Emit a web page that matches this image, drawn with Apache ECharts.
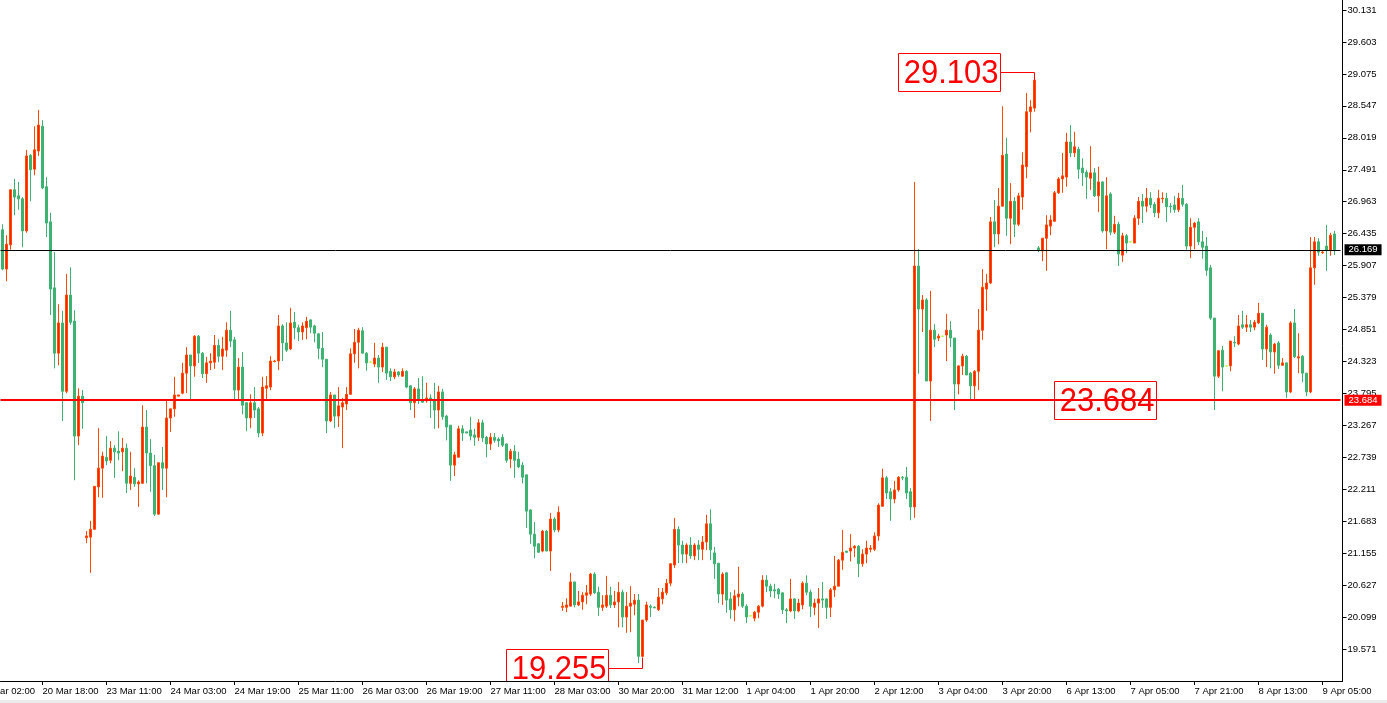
<!DOCTYPE html>
<html>
<head>
<meta charset="utf-8">
<script src="https://cdn.jsdelivr.net/npm/echarts@6/dist/echarts.min.js"></script>
<style>
html,body{margin:0;padding:0;background:#fff;overflow:hidden;}
#c{width:1387px;height:703px;}
</style>
</head>
<body>
<div id="c"></div>
<script>
// ---- data ----
const tickLabels = ['20 Mar 18:00','23 Mar 11:00','24 Mar 03:00','24 Mar 19:00','25 Mar 11:00','26 Mar 03:00','26 Mar 19:00','27 Mar 11:00','28 Mar 03:00','30 Mar 20:00','31 Mar 12:00','1 Apr 04:00','1 Apr 20:00','2 Apr 12:00','3 Apr 04:00','3 Apr 20:00','6 Apr 13:00','7 Apr 05:00','7 Apr 21:00','8 Apr 13:00','9 Apr 05:00'];
const cutLabel = '20 Mar 02:00';

const openP = [
26.50,25.85,26.25,27.16,27.06,27.01,26.48,27.73,27.50,27.80,
28.21,27.21,26.63,25.54,24.46,24.96,23.83,25.42,24.99,23.09,
23.75,21.41,21.42,21.55,22.25,22.56,22.74,22.69,22.89,22.84,
22.83,22.89,22.31,22.41,22.30,22.31,23.24,22.81,22.60,21.80,
22.65,22.56,23.39,23.54,23.75,23.80,24.13,24.43,24.25,24.74,
24.46,24.12,24.30,24.31,24.59,24.41,24.51,24.84,24.68,23.85,
24.23,23.64,23.39,23.64,23.54,23.14,23.88,23.90,24.32,24.33,
24.91,24.63,24.53,24.97,24.88,24.81,24.88,25.01,24.91,24.78,
24.54,24.36,23.34,23.77,23.42,23.57,23.62,23.78,24.45,24.64,
24.83,24.46,24.31,24.28,24.38,24.23,24.56,24.16,24.07,24.15,
24.08,24.16,23.92,23.64,23.87,23.69,23.67,23.72,23.69,23.52,
23.82,23.42,23.27,22.61,22.74,23.21,23.16,23.19,23.11,23.07,
23.31,23.07,22.96,23.07,23.04,23.07,22.96,22.71,22.84,22.71,
22.61,22.45,21.87,21.47,21.31,21.19,21.52,21.19,21.72,21.54,
20.26,20.26,20.28,20.68,20.30,20.35,20.46,20.48,20.81,20.51,
20.26,20.28,20.46,20.30,20.35,20.51,20.10,20.28,20.31,20.38,
19.45,20.05,20.28,20.26,20.22,20.40,20.50,20.66,20.96,21.55,
21.29,21.14,21.29,21.11,21.29,21.22,21.34,21.64,21.16,20.99,
20.48,20.83,20.40,20.22,20.43,20.48,20.28,20.12,20.08,20.18,
20.28,20.71,20.61,20.55,20.56,20.50,20.22,20.20,20.40,20.20,
20.30,20.66,20.51,20.26,20.33,20.40,20.40,20.26,20.55,20.61,
21.04,21.19,21.19,21.24,21.27,20.98,21.14,21.22,21.22,21.44,
21.93,22.40,22.17,22.05,22.20,22.41,22.41,22.17,21.92,25.90,
25.19,25.34,24.00,24.84,24.71,24.74,24.76,24.84,24.71,23.95,
24.25,24.41,24.13,23.92,24.16,24.84,25.52,25.62,26.63,26.43,
26.89,27.75,26.69,26.97,26.59,27.04,27.54,28.45,28.51,26.20,
26.15,26.36,26.56,26.64,27.11,27.34,27.37,27.95,27.77,27.83,
27.52,27.45,27.35,27.44,27.06,27.29,26.48,27.09,26.46,26.59,
26.08,26.40,26.30,26.28,26.69,26.97,26.89,27.02,26.92,26.78,
27.01,27.02,26.89,26.91,26.83,27.02,26.92,26.23,26.54,26.63,
26.30,26.23,25.87,25.04,24.08,24.51,24.25,24.25,24.64,24.61,
24.93,24.89,24.93,24.89,24.96,25.12,24.53,24.76,24.48,24.63,
24.26,24.30,23.82,24.96,24.38,24.41,24.13,23.82,25.87,26.30,
26.12,26.23,26.16,26.43];

const highP = [
26.59,26.41,27.17,27.34,27.29,27.04,27.82,27.75,28.21,28.48,
28.31,27.37,26.78,26.13,25.27,25.16,25.77,25.88,25.17,23.88,
23.85,21.52,21.69,22.26,23.22,22.83,23.09,23.01,22.94,23.17,
23.06,22.97,22.83,22.56,22.36,23.60,23.52,23.04,22.78,22.65,
22.91,23.69,23.54,24.07,23.77,24.30,24.56,24.43,24.76,24.76,
24.48,24.40,24.46,24.76,24.69,24.73,24.97,25.16,24.73,24.38,
24.48,23.65,23.78,23.90,23.57,24.07,24.08,24.41,24.35,25.09,
24.94,24.97,25.21,25.14,24.93,24.97,25.06,25.02,24.93,24.79,
24.81,24.36,23.82,23.77,23.90,23.72,23.90,24.54,24.86,24.88,
24.89,24.48,24.33,24.63,24.43,24.63,24.56,24.21,24.20,24.16,
24.21,24.18,23.93,23.90,24.05,24.08,23.97,23.78,23.97,23.92,
23.87,23.44,23.27,22.83,23.26,23.27,23.16,23.41,23.21,23.37,
23.36,23.09,23.14,23.14,23.07,23.12,22.97,22.88,22.94,22.83,
22.66,22.45,21.88,21.67,21.32,21.54,21.54,21.82,21.75,21.93,
20.35,20.41,20.83,20.68,20.53,20.51,20.63,20.83,20.84,20.60,
20.46,20.78,20.60,20.53,20.68,20.55,20.51,20.61,20.48,20.48,
20.05,20.35,20.31,20.28,20.58,20.58,20.73,20.99,21.74,21.60,
21.36,21.32,21.42,21.32,21.37,21.44,21.79,21.88,21.26,20.99,
20.84,20.84,20.51,20.55,20.93,20.51,20.31,20.13,20.20,20.30,
20.79,20.79,20.65,20.65,20.58,20.51,20.25,20.73,20.41,20.40,
20.69,20.79,20.55,20.40,20.58,20.68,20.41,20.58,21.11,21.06,
21.54,21.19,21.47,21.29,21.29,21.22,21.36,21.29,21.50,21.98,
22.55,22.43,22.23,22.35,22.43,22.43,22.58,22.23,27.29,26.18,
25.42,25.37,25.49,24.94,24.78,24.75,25.11,24.99,24.71,24.26,
24.45,24.43,24.15,24.18,25.19,25.85,25.77,26.71,26.99,27.19,
28.54,28.02,27.27,27.04,27.11,27.78,28.76,28.64,28.97,26.23,
26.36,26.74,26.74,27.14,27.37,27.77,28.10,28.23,28.12,27.87,
27.68,27.49,27.88,27.52,27.54,27.30,27.37,27.12,26.73,26.63,
26.45,26.43,26.31,26.74,27.04,27.09,27.19,27.12,26.96,27.16,
27.12,27.11,26.94,27.06,27.11,27.24,26.94,26.69,26.63,26.69,
26.48,26.38,25.92,25.04,24.51,24.58,24.26,24.66,24.74,25.09,
25.16,25.09,25.01,25.01,25.29,25.12,24.93,24.79,24.63,24.66,
24.38,24.30,24.99,25.19,24.79,24.43,24.13,26.38,26.38,26.36,
26.15,26.58,26.45,26.48];

const lowP = [
25.83,25.65,26.17,26.74,26.83,26.21,26.45,26.97,27.40,27.72,
27.17,26.38,25.09,24.21,24.26,23.34,23.80,24.93,22.36,22.94,
23.21,21.32,20.83,21.55,22.08,22.07,22.61,22.64,22.40,22.69,
22.51,22.15,22.20,22.25,21.92,22.30,22.31,22.17,21.77,21.79,
22.20,22.08,23.16,23.41,23.75,23.78,23.80,23.69,24.07,24.30,
24.05,23.97,24.18,24.20,24.31,24.18,24.40,24.56,23.69,23.69,
23.45,23.17,23.22,23.39,23.07,23.09,23.69,23.85,24.31,24.18,
24.33,24.48,24.51,24.69,24.66,24.68,24.69,24.79,24.64,24.36,
24.23,23.14,23.32,23.22,23.24,22.89,23.52,23.77,24.30,24.21,
24.46,24.17,24.30,24.23,23.97,24.15,24.02,24.00,24.03,24.07,
24.07,23.88,23.52,23.39,23.62,23.64,23.64,23.39,23.21,23.22,
23.36,23.02,22.35,22.43,22.74,23.01,23.14,23.02,22.93,23.01,
22.99,22.74,22.86,22.98,22.91,22.91,22.65,22.56,22.40,22.56,
22.31,21.57,21.31,21.07,21.17,21.17,21.19,20.86,21.50,21.50,
20.20,20.18,20.28,20.26,20.28,20.22,20.31,20.45,20.48,20.12,
20.20,20.25,20.25,20.25,19.93,19.93,19.84,19.85,20.13,19.34,
19.44,20.02,20.10,20.25,20.20,20.31,20.46,20.61,20.91,20.99,
20.99,20.99,21.06,21.04,21.04,21.04,21.21,21.04,20.73,20.33,
20.30,20.17,20.07,20.03,20.28,20.25,20.00,20.11,20.03,20.08,
20.26,20.51,20.43,20.41,20.40,20.15,20.00,20.18,20.07,20.18,
20.23,20.46,20.10,20.13,19.92,20.25,20.07,20.10,20.43,20.61,
20.88,21.16,21.02,21.09,20.76,20.93,20.99,21.17,21.19,21.36,
21.92,22.05,21.69,21.98,22.17,22.36,22.05,21.70,21.74,24.12,
24.81,24.00,23.34,24.56,24.66,24.73,24.33,24.56,23.52,23.78,
24.10,24.10,23.67,23.69,23.85,24.68,25.16,25.60,26.21,26.26,
26.88,26.40,26.26,26.38,26.56,26.83,27.35,28.11,28.45,26.13,
25.98,25.82,26.41,26.63,27.09,27.11,27.21,27.70,27.70,27.34,
27.22,27.01,27.16,27.04,26.79,26.45,26.18,26.41,26.43,25.90,
25.97,26.11,26.29,26.28,26.58,26.61,26.79,26.86,26.71,26.69,
26.94,26.63,26.78,26.78,26.79,26.88,26.17,26.03,26.18,26.25,
26.02,25.74,25.01,23.52,24.05,23.83,24.24,24.16,24.56,24.59,
24.86,24.81,24.81,24.84,24.94,24.35,24.23,24.21,24.12,24.20,
24.25,23.72,23.80,24.38,24.13,23.98,23.75,23.80,25.59,26.07,
26.10,25.82,26.07,26.08];

const closeP = [
25.85,26.26,27.16,27.04,27.01,26.48,27.72,27.49,27.82,28.23,
27.19,26.61,25.52,24.46,24.96,23.83,25.42,24.97,23.09,23.75,
23.64,21.44,21.55,22.26,22.56,22.76,22.68,22.89,22.83,22.81,
22.89,22.31,22.43,22.30,22.33,23.24,22.81,22.60,21.80,22.65,
22.56,23.39,23.54,23.77,23.77,24.13,24.43,24.25,24.74,24.46,
24.12,24.30,24.33,24.59,24.41,24.53,24.84,24.66,23.85,24.23,
23.60,23.39,23.64,23.52,23.14,23.90,23.92,24.33,24.33,24.91,
24.63,24.51,24.96,24.88,24.81,24.91,24.99,24.89,24.79,24.54,
24.36,23.34,23.77,23.42,23.59,23.64,23.78,24.45,24.64,24.84,
24.46,24.30,24.31,24.38,24.23,24.56,24.13,24.07,24.15,24.10,
24.16,23.90,23.64,23.87,23.69,23.65,23.72,23.69,23.52,23.82,
23.41,23.24,22.61,22.78,23.21,23.14,23.14,23.09,23.07,23.31,
23.06,22.96,23.07,23.02,23.01,22.94,22.69,22.84,22.69,22.58,
22.41,21.85,21.47,21.27,21.17,21.52,21.19,21.72,21.54,21.83,
20.28,20.30,20.68,20.30,20.35,20.46,20.50,20.81,20.50,20.26,
20.30,20.46,20.30,20.35,20.51,20.10,20.28,20.33,20.38,19.45,
20.05,20.30,20.26,20.25,20.43,20.51,20.66,20.98,21.55,21.29,
21.14,21.29,21.11,21.29,21.22,21.34,21.64,21.21,20.98,20.48,
20.81,20.38,20.22,20.45,20.48,20.28,20.10,20.12,20.18,20.28,
20.71,20.61,20.53,20.53,20.48,20.22,20.20,20.40,20.20,20.33,
20.66,20.51,20.28,20.33,20.40,20.38,20.26,20.55,20.61,21.04,
21.17,21.17,21.24,21.27,20.98,21.14,21.24,21.24,21.44,21.95,
22.40,22.15,22.05,22.20,22.41,22.40,22.15,21.92,25.90,25.19,
25.34,24.00,24.84,24.69,24.74,24.74,24.84,24.71,23.95,24.25,
24.41,24.10,23.92,24.16,24.84,25.55,25.62,26.63,26.43,26.89,
27.73,26.69,26.97,26.59,27.06,27.57,28.45,28.53,28.97,26.17,
26.36,26.58,26.66,27.11,27.34,27.39,27.95,27.77,27.87,27.50,
27.44,27.37,27.44,27.06,27.29,26.48,27.06,26.46,26.59,26.10,
26.40,26.28,26.30,26.69,26.97,26.89,27.02,26.91,26.78,27.02,
27.02,26.88,26.88,26.83,27.02,26.92,26.23,26.54,26.61,26.30,
26.21,25.83,25.04,24.08,24.50,24.23,24.25,24.66,24.63,24.91,
24.89,24.93,24.89,24.97,25.12,24.53,24.89,24.48,24.61,24.26,
24.30,23.82,24.96,24.40,24.40,24.13,23.82,25.87,26.30,26.13,
26.13,26.16,26.41,26.17];

const dojiIdx = [92, 187, 235, 282, 306];

// horizontal price levels
const levelValues = [26.169, 23.684];
const levelColors = ['#000000', '#FF0000'];

// red text annotations: value, anchor candle index, connector to that candle
const annoValues = [29.103, 19.255, 23.684];
const annoIdx = [258, 160, 297];
const annoLink = [true, true, false];

// ---- chart ----
const N_CATS = 335;
const TICK0 = 10, TSTEP = 16;
const isTick = i => i >= TICK0 && (i - TICK0) % TSTEP === 0;

const UP = '#FF2200', UP_B = '#FF4A00', DN = '#3CB371', DOJI = '#ADFF2F';
const FONT = 'Liberation Sans';

const cats = Array.from({length: N_CATS}, (_, i) => String(i));
const candleData = openP.map((o, i) => {
  const v = [o, closeP[i], lowP[i], highP[i]];
  if (dojiIdx.indexOf(i) >= 0) {
    return {value: v, itemStyle: {color: DOJI, color0: DOJI, borderColor: DOJI, borderColor0: DOJI}};
  }
  return v;
});

const annoData = annoValues.map((v, k) => {
  const i = annoIdx[k];
  const ext = annoLink[k] ? (v > closeP[i] ? highP[i] : lowP[i]) : v;
  return [i, v, ext, annoLink[k] ? 1 : 0];
});

function renderAnno(params, api) {
  const idx = api.value(0), val = api.value(1), ext = api.value(2), link = api.value(3);
  const p = api.coord([idx, val]);
  const pe = api.coord([idx, ext]);
  const cx = Math.floor(p[0]) + 0.5;
  const ly = Math.round(p[1]) + 0.5;
  const w = 102, h = 38;
  const right = cx - 34;
  const children = [
    {type: 'rect', shape: {x: right - w, y: ly - h / 2, width: w, height: h},
     style: {fill: 'none', stroke: '#FF0000', lineWidth: 1}},
    {type: 'text', x: right - 2, y: ly + 1, scaleY: 1.1,
     style: {text: val.toFixed(3), fill: '#FF0000', font: '31px "' + FONT + '"', align: 'right', verticalAlign: 'middle'}}
  ];
  if (link) {
    children.push({type: 'polyline', shape: {points: [[right, ly], [cx, ly], [cx, Math.round(pe[1]) + 0.5]]},
      style: {stroke: '#FF0000', lineWidth: 1, fill: 'none'}});
  }
  return {type: 'group', children};
}

const chart = echarts.init(document.getElementById('c'), null, {renderer: 'canvas'});
const option = {
  animation: false,
  backgroundColor: '#ffffff',
  grid: {left: 0.5, right: 46.5, top: 10, bottom: 22, containLabel: false},
  xAxis: {
    type: 'category', data: cats, boundaryGap: true,
    axisLine: {show: true, lineStyle: {color: '#000', width: 1}},
    axisTick: {show: true, interval: (i) => isTick(i), alignWithLabel: true, length: 4, lineStyle: {color: '#000'}},
    axisLabel: {show: true, interval: (i) => isTick(i),
      formatter: (v, i) => isTick(i) ? tickLabels[(i - TICK0) / TSTEP] : '',
      align: 'left', margin: 5, color: '#000', fontSize: 9.5, fontFamily: FONT},
    splitLine: {show: false}
  },
  yAxis: {
    type: 'value', position: 'right', offset: 2,
    min: 19.043, max: 30.131, interval: 0.528,
    axisLine: {show: true, lineStyle: {color: '#000', width: 1}},
    axisTick: {show: true, length: 4, lineStyle: {color: '#000'}},
    axisLabel: {formatter: v => v.toFixed(3), showMinLabel: false, margin: 5, color: '#000', fontSize: 9.5, fontFamily: FONT},
    splitLine: {show: false}
  },
  series: [
    {
      type: 'candlestick', data: candleData, barWidth: 2, large: false,
      itemStyle: {color: UP, color0: DN, borderColor: UP_B, borderColor0: DN, borderWidth: 1},
      markLine: {
        symbol: ['none', 'none'], silent: true, animation: false, precision: 3,
        data: levelValues.map((v, k) => ({
          yAxis: v,
          lineStyle: {color: levelColors[k], width: k === 0 ? 1 : 2, type: 'solid'},
          label: {show: true, position: 'end', distance: 4, formatter: v.toFixed(3),
            backgroundColor: levelColors[k], color: '#fff', padding: [1, 4, 0, 4],
            fontSize: 9.5, fontFamily: FONT, lineHeight: 10}
        }))
      }
    },
    {
      type: 'custom', data: annoData, renderItem: renderAnno, clip: true, z: 5, silent: true
    }
  ],
  graphic: [
    {type: 'line', shape: {x1: 1342.5, y1: 0, x2: 1342.5, y2: 12}, style: {stroke: '#000', lineWidth: 1}},
    {type: 'line', shape: {x1: 1339, y1: 681.5, x2: 1343, y2: 681.5}, style: {stroke: '#000', lineWidth: 1}},
    {type: 'text', x: -21, y: 686, style: {text: cutLabel, fill: '#000', font: '9.5px "' + FONT + '"'}},
    {type: 'rect', shape: {x: 0, y: 700, width: 1387, height: 3}, style: {fill: '#ececec'}}
  ]
};
chart.setOption(option);
</script>
</body>
</html>
